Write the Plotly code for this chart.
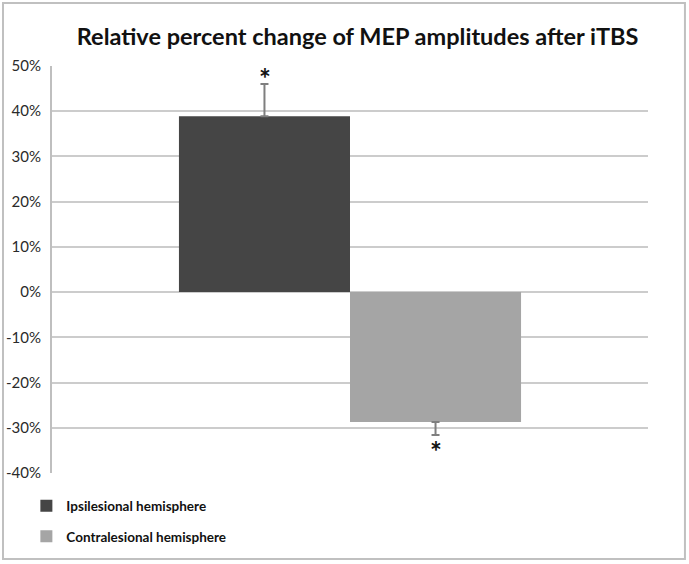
import plotly.graph_objects as go

series_names = ["Ipsilesional hemisphere", "Contralesional hemisphere"]
values = [38.9, -28.7]
err_plus = [7.1, 0.0]
err_minus = [0.0, 2.9]
colors = ["#454545", "#a5a5a5"]
tick_vals = [-40, -30, -20, -10, 0, 10, 20, 30, 40, 50]
tick_text = ["-40%", "-30%", "-20%", "-10%", "0%", "10%", "20%", "30%", "40%", "50%"]
category = ["MEP"]

fig = go.Figure()
for i, name in enumerate(series_names):
    fig.add_trace(go.Bar(
        x=category, y=[values[i]], name="<b>" + name + "</b>",
        marker=dict(color=colors[i], line=dict(width=0)),
        legendgroup=name,
        error_y=dict(type="data", symmetric=False, array=[err_plus[i]],
                     arrayminus=[err_minus[i]], color="#7f7f7f",
                     thickness=2, width=4),
    ))

# significance asterisks
for i in range(2):
    top = values[i] + err_plus[i] if values[i] > 0 else values[i] - err_minus[i]
    fig.add_annotation(
        x=category[0], y=top, xref="x", yref="y",
        xshift=(-85.5 if i == 0 else 85.5),
        yshift=(6 if i == 0 else -16),
        text="<b>*</b>", showarrow=False,
        font=dict(family="Lato", size=28, color="#111111"),
    )

fig.update_layout(
    width=689, height=564,
    margin=dict(l=52, r=41, t=66, b=91, pad=0, autoexpand=False),
    paper_bgcolor="white", plot_bgcolor="white",
    barmode="group", bargap=0.426, bargroupgap=0,
    title=dict(text="<b>Relative percent change of MEP amplitudes after iTBS</b>",
               x=0.519, xanchor="center", y=0.934, yanchor="middle",
               font=dict(family="Lato", size=23.5, color="#111111")),
    xaxis=dict(showticklabels=False, showgrid=False, zeroline=False,
               showline=False, ticks="", automargin=False),
    yaxis=dict(range=[-40, 50], tickvals=tick_vals, ticktext=tick_text,
               showgrid=True, gridcolor="#cccccc", gridwidth=2,
               zeroline=False, showline=True, linecolor="#bfbfbf", linewidth=2,
               ticks="", ticklabelstandoff=6, automargin=False,
               tickfont=dict(family="Lato", size=15, color="#2a2a2a")),
    showlegend=True,
    legend=dict(x=-0.043, y=-0.043, xanchor="left", yanchor="top",
                orientation="v", traceorder="grouped", tracegroupgap=10,
                font=dict(family="Lato", size=13.5, color="#111111"),
                bgcolor="rgba(0,0,0,0)"),
    shapes=[dict(type="rect", xref="paper", yref="paper",
                 x0=-0.0822, x1=1.062, y0=-0.2113, y1=1.1548,
                 line=dict(color="#c0c0c0", width=2), layer="below")],
)

fig.write_html("out.html", config={"displayModeBar": False},
               post_script="document.body.style.margin='0';")
